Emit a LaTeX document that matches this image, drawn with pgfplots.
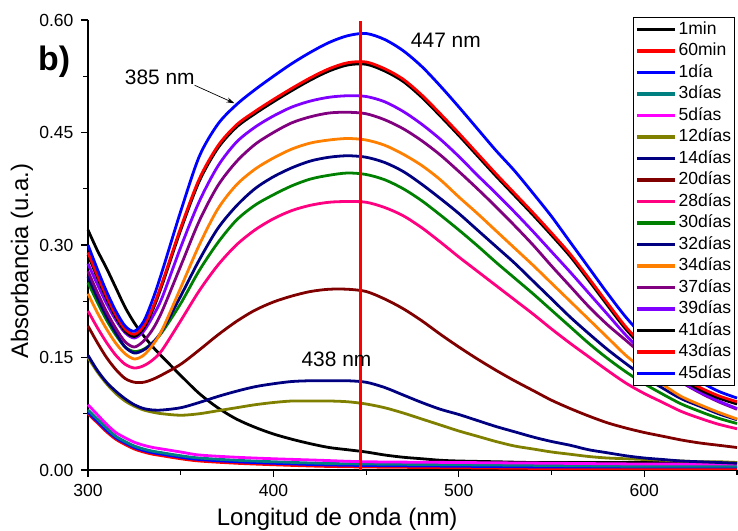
\documentclass[border=0pt]{standalone}
\usepackage{fontspec}
\setmainfont{Liberation Sans}
\usepackage{pgfplots}
\pgfplotsset{compat=1.18}
\usetikzlibrary{arrows.meta}
\definecolor{cteal}{RGB}{0,128,128}
\definecolor{cmag}{RGB}{255,0,255}
\definecolor{colive}{RGB}{128,128,0}
\definecolor{cnavy}{RGB}{0,0,128}
\definecolor{cmaroon}{RGB}{128,0,0}
\definecolor{cpink}{RGB}{255,0,128}
\definecolor{cgreen}{RGB}{0,128,0}
\definecolor{corange}{RGB}{255,128,0}
\definecolor{cpurple}{RGB}{128,0,128}
\definecolor{cviolet}{RGB}{128,0,255}
\begin{document}
\begin{tikzpicture}
\useasboundingbox (-88bp,-61bp) rectangle (650bp,470bp);
\begin{axis}[
  at={(0,0)}, anchor=south west,
  width=649bp, height=450bp, scale only axis,
  xmin=300, xmax=650, ymin=0, ymax=0.6,
  axis lines*=left,
  axis line style={line width=1.2pt},
  xtick={300,400,500,600}, minor xtick={350,450,550,650},
  ytick={0,0.15,0.30,0.45,0.60}, minor ytick={0.075,0.225,0.375,0.525},
  tick align=outside,
  major tick length=7bp, minor tick length=4.5bp,
  tick style={line width=1.1pt, black},
  /pgf/number format/assume math mode=true,
  yticklabel style={/pgf/number format/.cd, fixed, fixed zerofill, precision=2, /tikz/.cd, xshift=-4bp},
  xticklabel style={/pgf/number format/.cd, fixed, precision=0, /tikz/.cd, yshift=-4bp},
  tick label style={font=\fontsize{17.6}{20}\selectfont},
  xlabel={Longitud de onda (nm)},
  ylabel={Absorbancia (u.a.)},
  label style={font=\fontsize{24}{26}\selectfont},
  xlabel style={at={(axis description cs:0.384,-0.109)}, anchor=center},
  ylabel style={at={(axis description cs:-0.1017,0.464)}, anchor=center},
  clip=false,
  every axis plot/.append style={line width=2.8pt, smooth, tension=0.5},
  legend cell align=left,
  legend image code/.code={\draw[#1, line width=3.5pt] (0bp,0bp) -- (38bp,0bp);},
  legend style={at={(axis description cs:0.997,1.0067)}, anchor=north east,
    fill=white, draw=black, line width=0.8pt, font=\fontsize{17.6}{20}\selectfont,
    row sep=0pt, inner sep=1.5bp,
    nodes={text height=12.5bp, text depth=3bp, inner ysep=3bp, inner xsep=2bp}},
]
% 1min
\addplot[black] coordinates {(300,0.320)(305,0.293)(310,0.269)(315,0.243)(320,0.217)(325,0.196)(330,0.179)(335,0.164)(340,0.151)(350,0.126)(360,0.102)(370,0.083)(380,0.068)(390,0.057)(400,0.048)(410,0.041)(420,0.035)(430,0.030)(440,0.027)(450,0.024)(460,0.020)(470,0.017)(480,0.015)(490,0.013)(500,0.012)(520,0.011)(540,0.010)(560,0.010)(580,0.010)(600,0.010)(625,0.010)(650,0.010)};
\addlegendentry{1min}
% 60min
\addplot[red] coordinates {(300,0.075)(305,0.063)(310,0.051)(315,0.041)(320,0.034)(325,0.028)(330,0.024)(335,0.021)(340,0.019)(350,0.015)(360,0.012)(380,0.009)(400,0.007)(425,0.005)(450,0.004)(500,0.003)(550,0.002)(600,0.002)(650,0.002)};
\addlegendentry{60min}
% 1dia
\addplot[blue] coordinates {(300,0.077)(305,0.065)(310,0.053)(315,0.043)(320,0.036)(325,0.030)(330,0.026)(335,0.023)(340,0.021)(350,0.017)(360,0.014)(380,0.011)(400,0.009)(425,0.007)(450,0.006)(500,0.005)(550,0.004)(600,0.004)(650,0.004)};
\addlegendentry{1día}
% 3dias
\addplot[cteal] coordinates {(300,0.080)(305,0.068)(310,0.056)(315,0.045)(320,0.038)(325,0.032)(330,0.028)(335,0.025)(340,0.023)(350,0.019)(360,0.016)(380,0.013)(400,0.011)(425,0.009)(450,0.008)(500,0.007)(550,0.006)(600,0.005)(650,0.005)};
\addlegendentry{3días}
% 5dias
\addplot[cmag] coordinates {(300,0.087)(305,0.074)(310,0.061)(315,0.050)(320,0.043)(325,0.037)(330,0.033)(335,0.030)(340,0.028)(350,0.024)(360,0.020)(380,0.017)(400,0.015)(425,0.013)(450,0.011)(500,0.010)(550,0.009)(600,0.008)(650,0.008)};
\addlegendentry{5días}
% 12dias
\addplot[colive] coordinates {(300,0.150)(305,0.131)(310,0.115)(315,0.102)(320,0.092)(325,0.085)(330,0.080)(335,0.077)(340,0.075)(350,0.073)(360,0.075)(370,0.079)(380,0.083)(390,0.087)(400,0.090)(410,0.092)(420,0.092)(430,0.092)(440,0.091)(450,0.088)(460,0.083)(470,0.076)(480,0.068)(490,0.060)(500,0.052)(510,0.045)(520,0.038)(530,0.032)(540,0.028)(550,0.024)(560,0.021)(570,0.018)(580,0.016)(590,0.015)(600,0.014)(610,0.013)(620,0.012)(630,0.011)(640,0.011)(650,0.010)};
\addlegendentry{12días}
% 14dias
\addplot[cnavy] coordinates {(300,0.153)(305,0.133)(310,0.117)(315,0.105)(320,0.095)(325,0.087)(330,0.082)(335,0.080)(340,0.080)(350,0.083)(360,0.090)(370,0.098)(380,0.105)(390,0.111)(400,0.115)(410,0.118)(420,0.119)(430,0.119)(440,0.119)(450,0.117)(460,0.110)(470,0.100)(480,0.090)(490,0.081)(500,0.074)(510,0.066)(520,0.058)(530,0.051)(540,0.044)(550,0.038)(560,0.033)(570,0.027)(580,0.023)(590,0.019)(600,0.016)(610,0.014)(620,0.012)(630,0.011)(640,0.010)(650,0.009)};
\addlegendentry{14días}
% 20dias
\addplot[cmaroon] coordinates {(300,0.192)(305,0.170)(310,0.150)(315,0.134)(320,0.122)(325,0.117)(330,0.117)(335,0.121)(340,0.127)(350,0.141)(360,0.160)(370,0.180)(380,0.198)(390,0.213)(400,0.224)(410,0.232)(420,0.238)(430,0.241)(440,0.241)(450,0.238)(460,0.228)(470,0.215)(480,0.199)(490,0.181)(500,0.164)(510,0.148)(520,0.133)(530,0.119)(540,0.106)(550,0.093)(560,0.082)(570,0.072)(580,0.063)(590,0.056)(600,0.050)(610,0.045)(620,0.040)(630,0.036)(640,0.033)(650,0.030)};
\addlegendentry{20días}
% 28dias
\addplot[cpink] coordinates {(300,0.212)(305,0.190)(310,0.170)(315,0.153)(320,0.141)(325,0.136)(330,0.139)(335,0.147)(340,0.160)(350,0.199)(360,0.239)(370,0.273)(380,0.300)(390,0.320)(400,0.335)(410,0.346)(420,0.353)(430,0.357)(440,0.358)(450,0.357)(460,0.350)(470,0.339)(480,0.323)(490,0.304)(500,0.284)(510,0.265)(520,0.246)(530,0.227)(540,0.208)(550,0.188)(560,0.169)(570,0.151)(580,0.133)(590,0.116)(600,0.102)(610,0.090)(620,0.078)(630,0.069)(640,0.061)(650,0.055)};
\addlegendentry{28días}
% 30dias
\addplot[cgreen] coordinates {(300,0.250)(305,0.224)(310,0.200)(315,0.180)(320,0.164)(325,0.158)(330,0.161)(335,0.170)(340,0.184)(350,0.222)(360,0.266)(370,0.303)(380,0.333)(390,0.353)(400,0.367)(410,0.379)(420,0.388)(430,0.393)(440,0.396)(450,0.394)(460,0.387)(470,0.375)(480,0.359)(490,0.340)(500,0.320)(510,0.299)(520,0.277)(530,0.256)(540,0.235)(550,0.213)(560,0.191)(570,0.169)(580,0.149)(590,0.131)(600,0.115)(610,0.101)(620,0.088)(630,0.078)(640,0.069)(650,0.062)};
\addlegendentry{30días}
% 32dias
\addplot[cnavy] coordinates {(300,0.258)(305,0.230)(310,0.205)(315,0.183)(320,0.164)(325,0.156)(330,0.160)(335,0.170)(340,0.186)(350,0.232)(360,0.280)(370,0.322)(380,0.352)(390,0.375)(400,0.391)(410,0.403)(420,0.412)(430,0.417)(440,0.419)(450,0.417)(460,0.410)(470,0.398)(480,0.381)(490,0.362)(500,0.342)(510,0.320)(520,0.298)(530,0.276)(540,0.252)(550,0.228)(560,0.204)(570,0.182)(580,0.161)(590,0.142)(600,0.124)(610,0.109)(620,0.095)(630,0.085)(640,0.075)(650,0.067)};
\addlegendentry{32días}
% 34dias
\addplot[corange] coordinates {(300,0.235)(305,0.210)(310,0.188)(315,0.169)(320,0.155)(325,0.148)(330,0.153)(335,0.167)(340,0.187)(350,0.243)(360,0.300)(370,0.348)(380,0.380)(390,0.401)(400,0.416)(410,0.428)(420,0.436)(430,0.440)(440,0.442)(450,0.440)(460,0.433)(470,0.421)(480,0.406)(490,0.387)(500,0.364)(510,0.342)(520,0.319)(530,0.296)(540,0.273)(550,0.249)(560,0.225)(570,0.201)(580,0.177)(590,0.153)(600,0.133)(610,0.114)(620,0.098)(630,0.087)(640,0.077)(650,0.068)};
\addlegendentry{34días}
% 37dias
\addplot[cpurple] coordinates {(300,0.265)(305,0.237)(310,0.211)(315,0.189)(320,0.171)(325,0.164)(330,0.172)(335,0.188)(340,0.212)(350,0.272)(360,0.332)(370,0.379)(380,0.411)(390,0.434)(400,0.450)(410,0.463)(420,0.471)(430,0.476)(440,0.477)(450,0.475)(460,0.467)(470,0.455)(480,0.439)(490,0.420)(500,0.398)(510,0.375)(520,0.351)(530,0.326)(540,0.300)(550,0.272)(560,0.245)(570,0.218)(580,0.194)(590,0.173)(600,0.152)(610,0.134)(620,0.117)(630,0.103)(640,0.091)(650,0.081)};
\addlegendentry{37días}
% 39dias
\addplot[cviolet] coordinates {(300,0.275)(305,0.248)(310,0.222)(315,0.200)(320,0.183)(325,0.176)(330,0.185)(335,0.205)(340,0.230)(350,0.297)(360,0.358)(370,0.405)(380,0.437)(390,0.457)(400,0.472)(410,0.484)(420,0.492)(430,0.497)(440,0.499)(450,0.498)(460,0.491)(470,0.478)(480,0.461)(490,0.441)(500,0.418)(510,0.393)(520,0.369)(530,0.344)(540,0.318)(550,0.291)(560,0.264)(570,0.236)(580,0.208)(590,0.180)(600,0.156)(610,0.136)(620,0.118)(630,0.104)(640,0.092)(650,0.082)};
\addlegendentry{39días}
% 41dias
\addplot[black] coordinates {(300,0.287)(305,0.257)(310,0.229)(315,0.204)(320,0.185)(325,0.178)(330,0.189)(335,0.214)(340,0.247)(350,0.320)(360,0.385)(370,0.429)(380,0.457)(390,0.475)(400,0.491)(410,0.506)(420,0.520)(430,0.532)(440,0.540)(450,0.541)(460,0.532)(470,0.518)(480,0.497)(490,0.472)(500,0.446)(510,0.419)(520,0.392)(530,0.366)(540,0.340)(550,0.313)(560,0.285)(570,0.253)(580,0.220)(590,0.188)(600,0.162)(610,0.141)(620,0.121)(630,0.107)(640,0.096)(650,0.088)};
\addlegendentry{41días}
% 43dias
\addplot[red] coordinates {(300,0.290)(305,0.260)(310,0.232)(315,0.207)(320,0.188)(325,0.181)(330,0.192)(335,0.217)(340,0.250)(350,0.323)(360,0.388)(370,0.432)(380,0.460)(390,0.478)(400,0.494)(410,0.509)(420,0.523)(430,0.535)(440,0.543)(450,0.544)(460,0.535)(470,0.521)(480,0.500)(490,0.475)(500,0.449)(510,0.422)(520,0.395)(530,0.369)(540,0.343)(550,0.316)(560,0.288)(570,0.256)(580,0.223)(590,0.191)(600,0.165)(610,0.144)(620,0.124)(630,0.110)(640,0.099)(650,0.091)};
\addlegendentry{43días}
% 45dias
\addplot[blue] coordinates {(300,0.300)(305,0.268)(310,0.238)(315,0.212)(320,0.192)(325,0.185)(330,0.198)(335,0.228)(340,0.265)(350,0.345)(360,0.418)(370,0.461)(380,0.487)(390,0.507)(400,0.525)(410,0.542)(420,0.557)(430,0.570)(440,0.579)(450,0.582)(460,0.574)(470,0.559)(480,0.538)(490,0.512)(500,0.484)(510,0.455)(520,0.426)(530,0.399)(540,0.369)(550,0.338)(560,0.304)(570,0.270)(580,0.236)(590,0.204)(600,0.177)(610,0.155)(620,0.135)(630,0.118)(640,0.105)(650,0.096)};
\addlegendentry{45días}
% vertical marker line
\addplot[red, line width=2.2pt, sharp plot, forget plot] coordinates {(447,0)(447,0.598)};
\node[font=\fontsize{21}{23}\selectfont] at (axis cs:338.7,0.523) {385 nm};
\draw[-{Stealth[length=8bp,width=5bp]}, line width=0.7pt] (axis cs:357.5,0.513) -- (axis cs:379,0.489);
\node[font=\fontsize{21}{23}\selectfont] at (axis cs:493,0.573) {447 nm};
\node[font=\fontsize{21}{23}\selectfont] at (axis cs:434,0.147) {438 nm};
\node[font=\fontsize{34}{36}\selectfont\bfseries] at (axis cs:281.7,0.544) {b)};
\end{axis}
\end{tikzpicture}
\end{document}
